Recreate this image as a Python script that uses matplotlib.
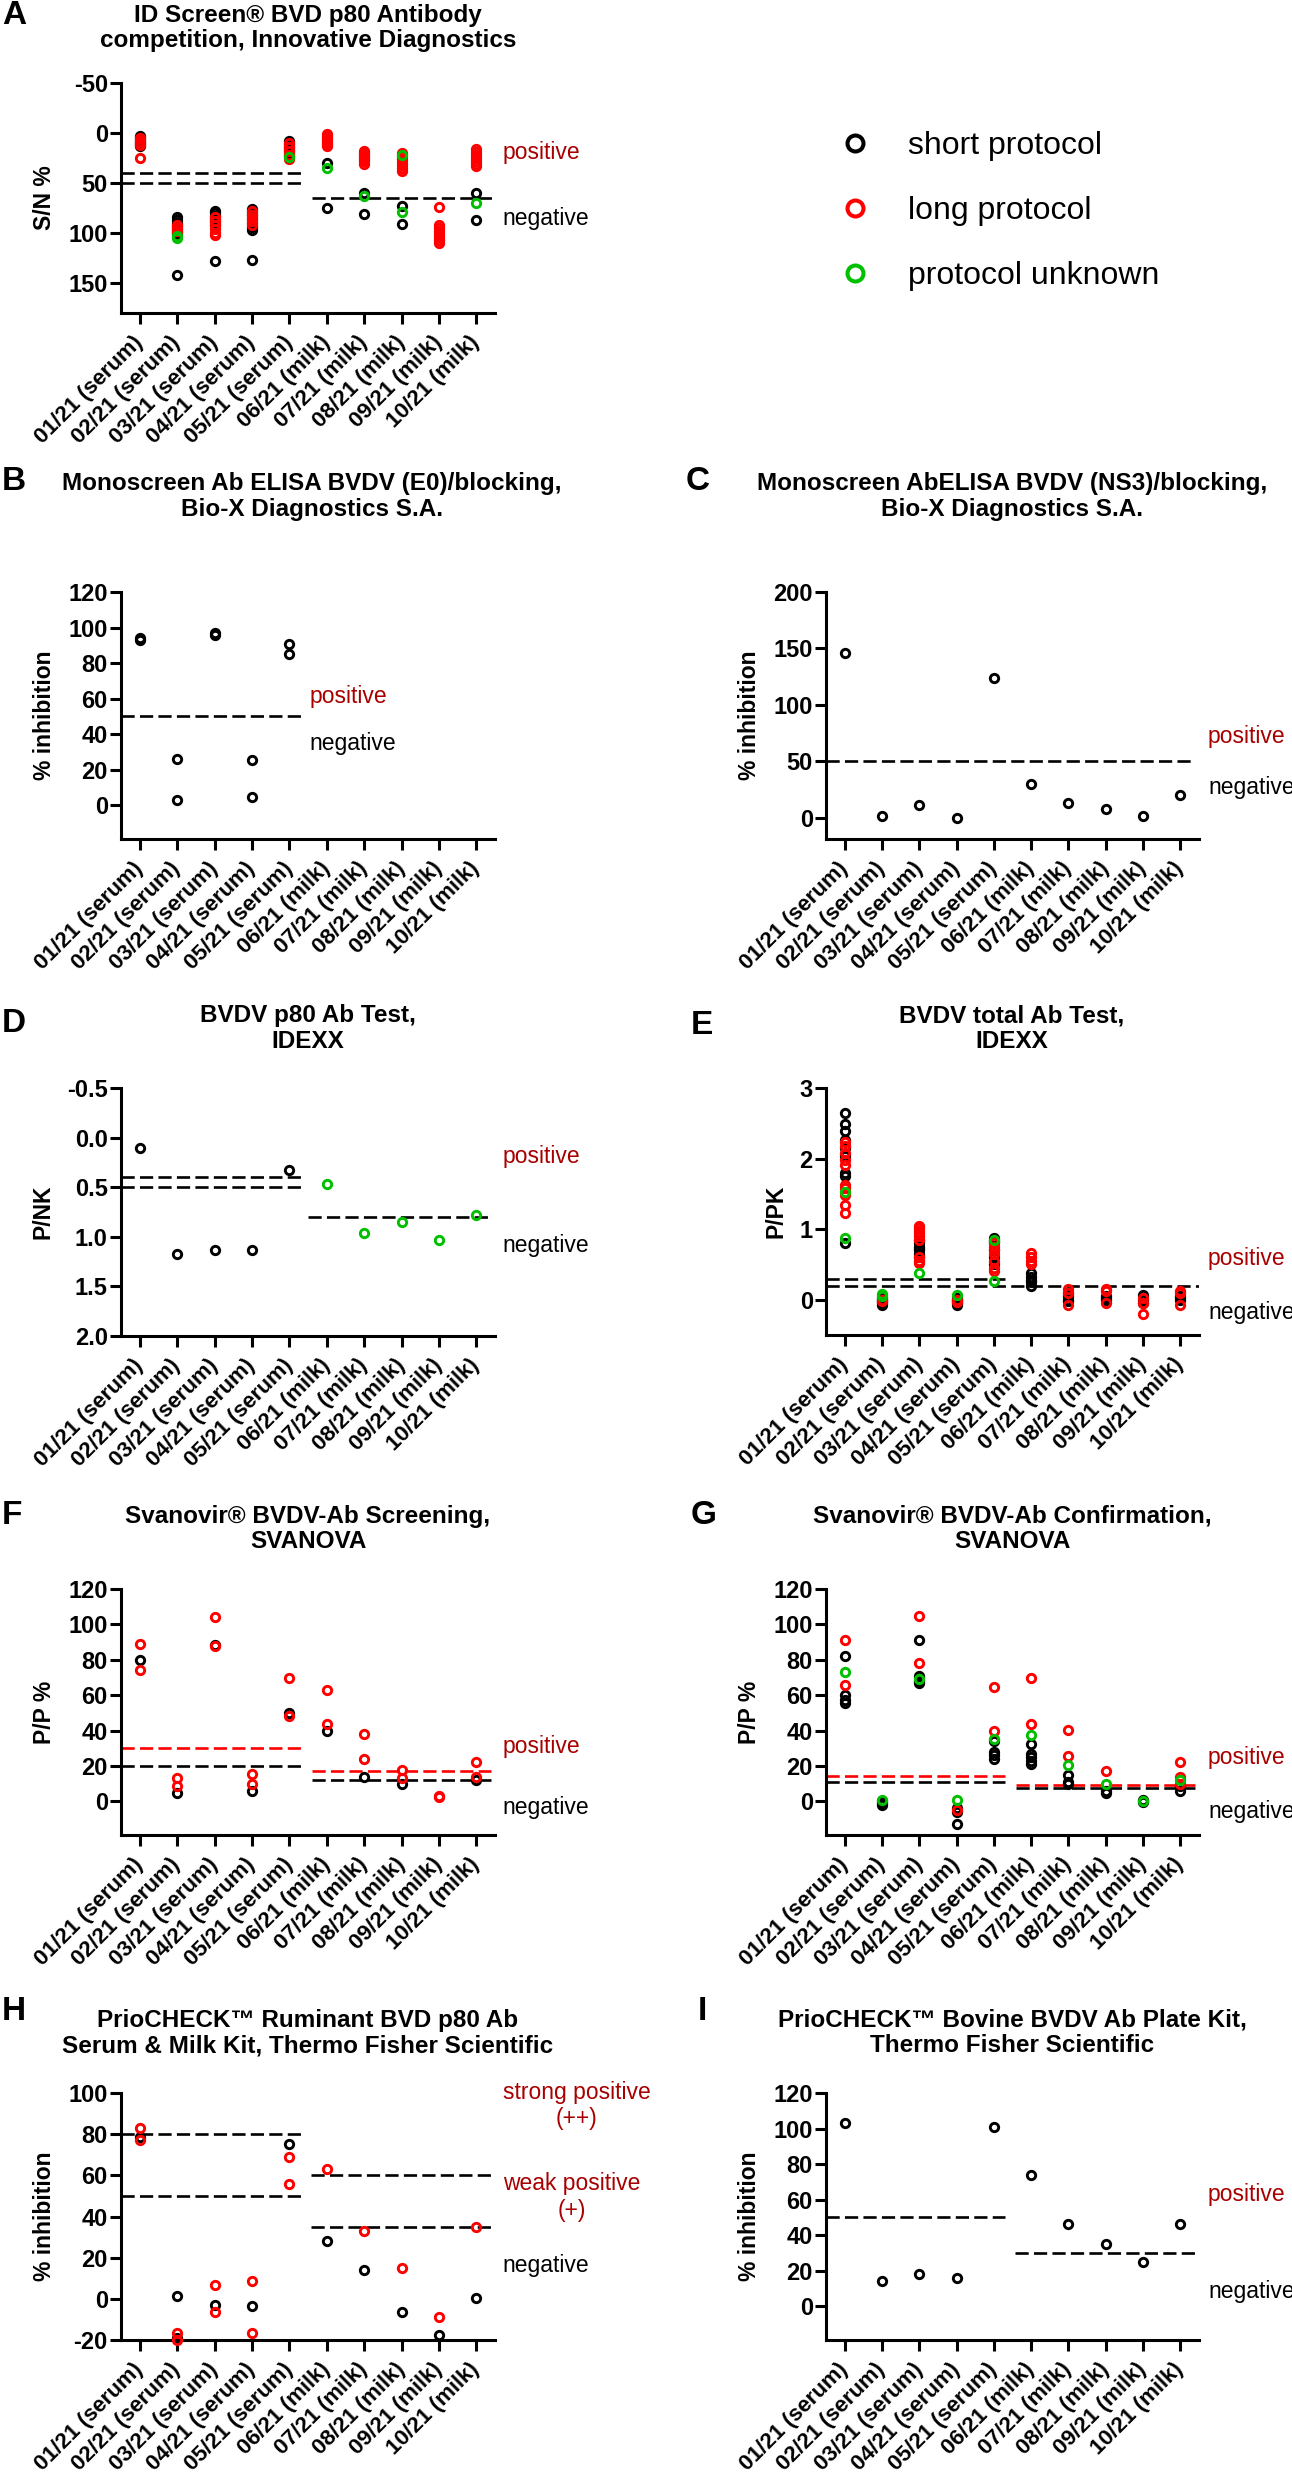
import matplotlib.pyplot as plt
import matplotlib.transforms as mtransforms
from matplotlib.lines import Line2D
from matplotlib.ticker import FormatStrFormatter

plt.rcParams['font.family'] = ['Liberation Sans', 'DejaVu Sans']
plt.rcParams['font.weight'] = 'bold'
plt.rcParams['axes.unicode_minus'] = False

months = ['01/21 (serum)', '02/21 (serum)', '03/21 (serum)', '04/21 (serum)', '05/21 (serum)',
          '06/21 (milk)', '07/21 (milk)', '08/21 (milk)', '09/21 (milk)', '10/21 (milk)']

# A - ID Screen (S/N %)
a_short = [[3, 5, 7, 9, 11, 13], [84, 87, 90, 93, 96, 99, 101, 142], [78, 80, 83, 86, 89, 92, 128],
           [76, 79, 82, 86, 90, 94, 97, 127], [8, 11, 14, 17, 20, 23], [30, 75], [60, 81], [73, 91], [], [60, 87]]
a_long = [[5, 8, 10, 12, 25], [92, 95, 98], [84, 88, 92, 96, 100, 102], [78, 82, 85, 88, 92],
          [10, 14, 18, 22, 26], [1, 3, 5, 7, 9, 11, 13], [18, 20, 22, 24, 26, 28, 31],
          [20, 23, 26, 29, 32, 35, 38], [74, 92, 95, 98, 101, 104, 107, 110], [16, 19, 22, 25, 28, 31, 33]]
a_unknown = [[], [103, 105], [], [], [24], [35], [63], [22, 79], [], [70]]

# B - Monoscreen E0
b_short = [[93, 94], [26, 3], [97, 96], [25.5, 4.7], [91, 85], [], [], [], [], []]

# C - Monoscreen NS3
c_short = [[146], [1], [11], [0], [124], [30], [12.5], [8], [1.5], [20]]

# D - IDEXX p80 (P/NK)
d_short = [[0.1], [1.17], [1.13], [1.13], [0.33], [], [], [], [], []]
d_unknown = [[], [], [], [], [], [0.47], [0.96], [0.85], [1.03], [0.78]]

# E - IDEXX total (P/PK)
e_short = [[2.64, 2.49, 2.39, 2.26, 2.15, 2.03, 1.79, 1.75, 0.81], [-0.07, -0.05, -0.03, 0.0, 0.02],
           [0.85, 0.8, 0.75, 0.72, 0.7, 0.65, 0.6], [-0.08, -0.05, -0.02, 0.0, 0.03],
           [0.88, 0.85, 0.82, 0.7, 0.6, 0.5], [0.38, 0.32, 0.28, 0.25, 0.2], [0.1, 0.05, 0.0, -0.02],
           [0.05, 0.02, 0.0], [0.06, 0.0, -0.05], [0.05, 0.02, 0.0]]
e_long = [[2.24, 2.18, 2.08, 1.98, 1.91, 1.63, 1.58, 1.49, 1.34, 1.23], [-0.02, 0.0],
          [1.05, 1.02, 0.98, 0.95, 0.9, 0.85, 0.6, 0.55, 0.52], [-0.03, 0.0],
          [0.8, 0.75, 0.7, 0.65, 0.55, 0.45, 0.4], [0.66, 0.6, 0.55, 0.5], [0.15, 0.1, -0.08],
          [0.15, 0.12, -0.05], [0.02, -0.05, -0.2], [0.13, 0.1, -0.07]]
e_unknown = [[1.53, 0.87], [0.08, 0.05], [0.38], [0.07], [0.27, 0.85], [], [], [], [], []]

# F - Svanovir screening (P/P %)
f_short = [[80], [5], [88.5], [6], [50], [39.5], [13.5], [10], [], [12]]
f_long = [[89, 74], [13, 8.5], [104, 88], [15.5, 10], [69.5, 48], [63, 43.5], [38, 24], [18, 13], [3, 2.5], [22.5, 14]]

# G - Svanovir confirmation (P/P %)
g_short = [[82, 60, 57, 55.5], [0, -1, -2], [91, 71, 68, 67], [-4, -6, -13], [34, 28, 26, 24],
           [32.5, 27, 25, 23, 21], [15, 11, 10], [6, 4.5], [0.5, -0.5], [8.5, 6]]
g_long = [[91, 66], [], [105, 78], [-5], [64.5, 40], [69.5, 43.5], [40.5, 25.5], [17], [], [22, 14, 10]]
g_unknown = [[73], [1], [69], [1], [35.5], [37.5], [20.5], [10], [0], [12]]

# H - PrioCHECK ruminant p80
h_short = [[78.5], [1.5, -19], [-3], [-3.5], [75], [28], [14], [-6.5], [-17.5], [0.5]]
h_long = [[83, 77], [-16.5, -20], [6.5, -6.5], [8.5, -16.5], [69, 56], [63], [33], [15], [-9], [35]]

# I - PrioCHECK bovine plate kit
i_short = [[103], [14], [18], [16], [101], [74], [46], [35], [25], [46]]

# cutoffs: (value, x from, x to, colour)
a_cut = [(40, -0.5, 4.3, 'k'), (50, -0.5, 4.3, 'k'), (65, 4.6, 9.5, 'k')]
b_cut = [(50, -0.5, 4.3, 'k')]
c_cut = [(50, -0.5, 9.4, 'k')]
d_cut = [(0.4, -0.5, 4.3, 'k'), (0.5, -0.5, 4.3, 'k'), (0.8, 4.5, 9.3, 'k')]
e_cut = [(0.3, -0.5, 4.3, 'k'), (0.2, -0.5, 9.5, 'k')]
f_cut = [(30, -0.5, 4.3, 'r'), (20, -0.5, 4.3, 'k'), (17, 4.6, 9.4, 'r'), (12, 4.6, 9.4, 'k')]
g_cut = [(14.5, -0.5, 4.3, 'r'), (11, -0.5, 4.3, 'k'), (9, 4.6, 9.4, 'r'), (7.5, 4.6, 9.4, 'k')]
h_cut = [(80, -0.5, 4.3, 'k'), (50, -0.5, 4.3, 'k'), (60, 4.57, 9.4, 'k'), (35, 4.57, 9.4, 'k')]
i_cut = [(50, -0.5, 4.3, 'k'), (30, 4.56, 9.4, 'k')]

BLACK, RED, GREEN = '#000000', '#ff0000', '#00c000'
DARKRED = '#a80000'
W, H = 1292, 2480

fig = plt.figure(figsize=(W / 100, H / 100), dpi=100)


def rect(left, top, right, bottom):
    return [left / W, 1 - bottom / H, (right - left) / W, (bottom - top) / H]


def panel(box, groups, cuts, ylim, yticks, ylabel, fmt=None):
    ax = fig.add_axes(rect(*box))
    for vals, col in groups:
        for i, v in enumerate(vals):
            ax.plot([i] * len(v), v, ls='none', marker='o', ms=6, mfc='none', mec=col,
                    mew=2.1, clip_on=False, zorder=3)
    for y, x0, x1, col in cuts:
        c = RED if col == 'r' else BLACK
        ax.hlines(y, x0, x1, colors=c, linestyles=(0, (5, 2)), linewidth=1.9, zorder=2)
    ax.set_xlim(-0.5, 9.5)
    ax.set_ylim(*ylim)
    ax.set_yticks(yticks)
    if fmt:
        ax.yaxis.set_major_formatter(FormatStrFormatter(fmt))
    ax.set_xticks(range(10))
    ax.set_xticklabels(months, rotation=45, ha='right', va='center', rotation_mode='anchor')
    ax.spines[['top', 'right']].set_visible(False)
    ax.spines[['left', 'bottom']].set_linewidth(2.2)
    ax.tick_params(axis='both', direction='out', length=8, width=2.2)
    ax.tick_params(axis='y', pad=1.5, labelsize=17)
    ax.tick_params(axis='x', pad=11, labelsize=16)
    ax.set_ylabel(ylabel, fontsize=16.5, fontweight='bold', labelpad=9)
    return ax


def side_text(ax, x, y, s, col):
    tr = mtransforms.blended_transform_factory(ax.transAxes, ax.transData)
    ax.text(x, y, s, transform=tr, ha='left', va='center', multialignment='center',
            color=col, fontsize=16.5, fontweight='normal')


def title(cx, cy, s):
    fig.text(cx / W, 1 - cy / H, s, ha='center', va='center', fontsize=17.5,
             fontweight='bold', linespacing=1.12)


def letter(x, y, s):
    fig.text(x / W, 1 - y / H, s, ha='left', va='center', fontsize=24, fontweight='bold')


LEFT = (121, 495)
RIGHT = (826, 1199)

# A
ax = panel((LEFT[0], 83, LEFT[1], 313), [(a_short, BLACK), (a_long, RED), (a_unknown, GREEN)],
           a_cut, (180, -50), [-50, 0, 50, 100, 150], 'S/N %')
side_text(ax, 1.021, 19, 'positive', DARKRED)
side_text(ax, 1.021, 85, 'negative', BLACK)
title(308, 28, 'ID Screen® BVD p80 Antibody\ncompetition, Innovative Diagnostics')
letter(2, 15, 'A')

handles = [Line2D([], [], ls='none', marker='o', ms=11.5, mfc='none', mec=c, mew=2.9)
           for c in (BLACK, RED, GREEN)]
fig.legend(handles, ['short protocol', 'long protocol', 'protocol unknown'], loc='center left',
           bbox_to_anchor=(839 / W, 1 - 211 / H), frameon=False, handlelength=1.0,
           handletextpad=1.15, labelspacing=1.1, borderpad=0, borderaxespad=0,
           prop={'size': 23, 'weight': 'normal'})

# B
ax = panel((LEFT[0], 592, LEFT[1], 839), [(b_short, BLACK)], b_cut, (-19, 120),
           [0, 20, 40, 60, 80, 100, 120], '% inhibition')
side_text(ax, 0.505, 61, 'positive', DARKRED)
side_text(ax, 0.505, 35, 'negative', BLACK)
title(312, 496.5, 'Monoscreen Ab ELISA BVDV (E0)/blocking,\nBio-X Diagnostics S.A.')
letter(2, 482, 'B')

# C
ax = panel((RIGHT[0], 592, RIGHT[1], 839), [(c_short, BLACK)], c_cut, (-19, 200),
           [0, 50, 100, 150, 200], '% inhibition')
side_text(ax, 1.024, 72, 'positive', DARKRED)
side_text(ax, 1.024, 26.5, 'negative', BLACK)
title(1012, 496.5, 'Monoscreen AbELISA BVDV (NS3)/blocking,\nBio-X Diagnostics S.A.')
letter(686, 482, 'C')

# D
ax = panel((LEFT[0], 1088, LEFT[1], 1336), [(d_short, BLACK), (d_unknown, GREEN)], d_cut,
           (2.0, -0.5), [-0.5, 0.0, 0.5, 1.0, 1.5, 2.0], 'P/NK', fmt='%.1f')
side_text(ax, 1.021, 0.19, 'positive', DARKRED)
side_text(ax, 1.021, 1.09, 'negative', BLACK)
title(308, 1028.5, 'BVDV p80 Ab Test,\nIDEXX')
letter(2, 1023, 'D')

# E
ax = panel((RIGHT[0], 1088, RIGHT[1], 1335), [(e_short, BLACK), (e_long, RED), (e_unknown, GREEN)],
           e_cut, (-0.5, 3), [0, 1, 2, 3], 'P/PK')
side_text(ax, 1.024, 0.59, 'positive', DARKRED)
side_text(ax, 1.024, -0.18, 'negative', BLACK)
title(1012, 1028.5, 'BVDV total Ab Test,\nIDEXX')
letter(691, 1025, 'E')

# F
ax = panel((LEFT[0], 1589, LEFT[1], 1835), [(f_short, BLACK), (f_long, RED)], f_cut, (-19, 120),
           [0, 20, 40, 60, 80, 100, 120], 'P/P %')
side_text(ax, 1.021, 31, 'positive', DARKRED)
side_text(ax, 1.021, -3.4, 'negative', BLACK)
title(308, 1529, 'Svanovir® BVDV-Ab Screening,\nSVANOVA')
letter(2, 1515, 'F')

# G
ax = panel((RIGHT[0], 1589, RIGHT[1], 1835), [(g_short, BLACK), (g_long, RED), (g_unknown, GREEN)],
           g_cut, (-19, 120), [0, 20, 40, 60, 80, 100, 120], 'P/P %')
side_text(ax, 1.024, 25, 'positive', DARKRED)
side_text(ax, 1.024, -6, 'negative', BLACK)
title(1012, 1529, 'Svanovir® BVDV-Ab Confirmation,\nSVANOVA')
letter(691, 1515, 'G')

# H
ax = panel((LEFT[0], 2093, LEFT[1], 2340), [(h_short, BLACK), (h_long, RED)], h_cut, (-20, 100),
           [-20, 0, 20, 40, 60, 80, 100], '% inhibition')
side_text(ax, 1.021, 94, 'strong positive\n(++)', DARKRED)
side_text(ax, 1.021, 49.5, 'weak positive\n(+)', DARKRED)
side_text(ax, 1.021, 16, 'negative', BLACK)
title(308, 2033, 'PrioCHECK™ Ruminant BVD p80 Ab\nSerum & Milk Kit, Thermo Fisher Scientific')
letter(2, 2012, 'H')

# I
ax = panel((RIGHT[0], 2093, RIGHT[1], 2340), [(i_short, BLACK)], i_cut, (-19, 120),
           [0, 20, 40, 60, 80, 100, 120], '% inhibition')
side_text(ax, 1.024, 62.8, 'positive', DARKRED)
side_text(ax, 1.024, 8.4, 'negative', BLACK)
title(1012, 2033, 'PrioCHECK™ Bovine BVDV Ab Plate Kit,\nThermo Fisher Scientific')
letter(698, 2012, 'I')

fig.savefig('out.png', dpi=100)
